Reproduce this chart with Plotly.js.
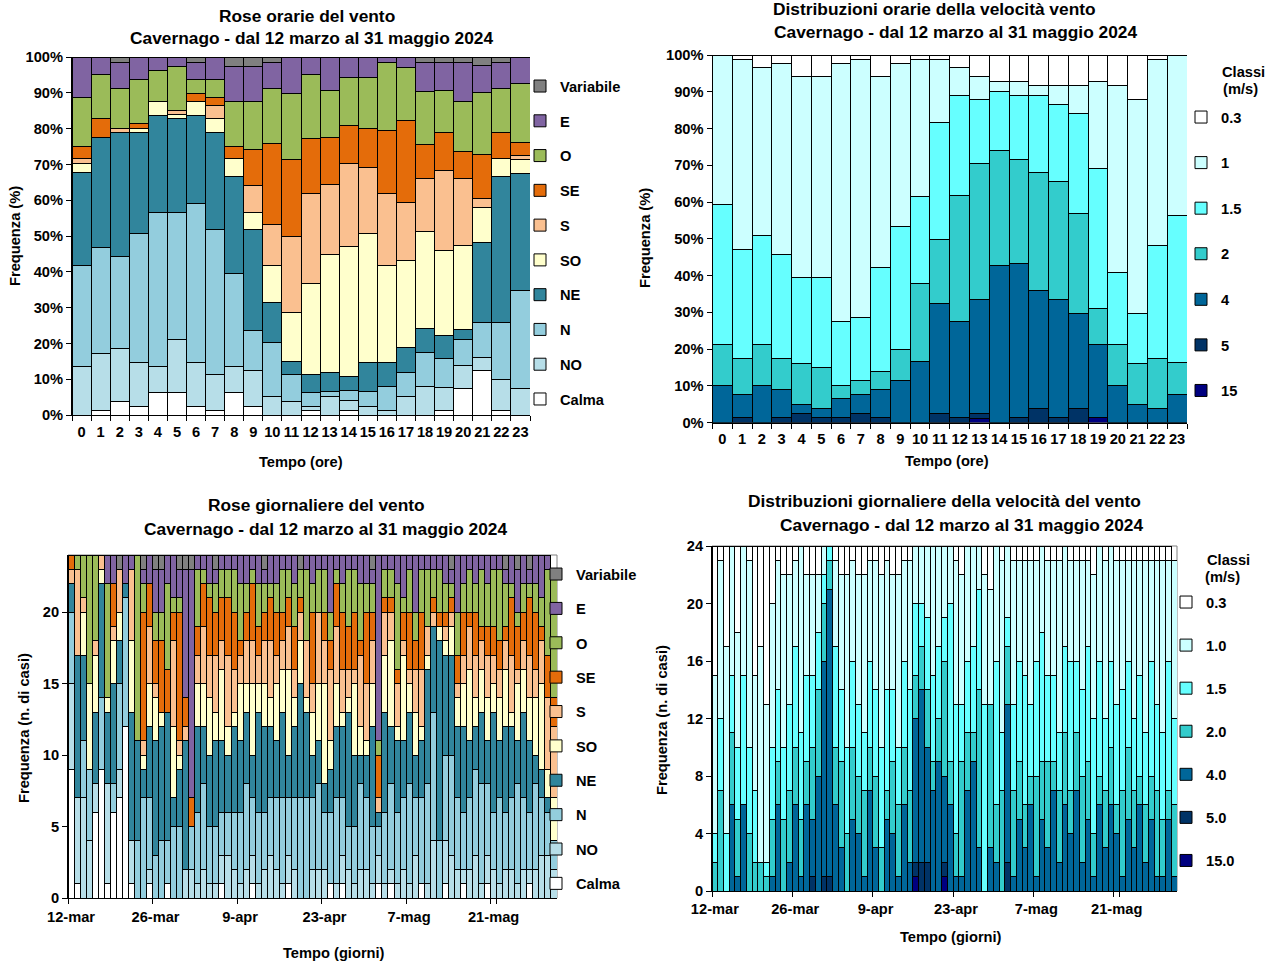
<!DOCTYPE html>
<html><head><meta charset="utf-8">
<script src="https://cdn.plot.ly/plotly-3.0.1.min.js"></script>
<style>body{margin:0;background:#fff}#chart{width:1274px;height:965px}</style>
</head><body><div id="chart"></div>
<script>
// ---------- categories / labels ----------
const hourLabels = ['0','1','2','3','4','5','6','7','8','9','10','11','12','13','14','15','16','17','18','19','20','21','22','23'];
const roseCategories = ['Calma','NO','N','NE','SO','S','SE','O','E','Variabile'];
const roseColors = ['#ffffff','#b7dee8','#93cddd','#31859c','#ffffcc','#fac090','#e46c0a','#9bbb59','#8064a2','#808080'];
const speedClassesHourly = ['15','5','4','2','1.5','1','0.3'];
const speedClassesDaily = ['15.0','5.0','4.0','2.0','1.5','1.0','0.3'];
const speedColors = ['#000080','#003366','#006699','#33cccc','#66ffff','#ccffff','#ffffff'];
const dailyTickLabels = ['12-mar','26-mar','9-apr','23-apr','7-mag','21-mag'];
const monthSpans = [['mar',12,31],['apr',1,30],['mag',1,31]];

// ---------- hourly wind rose (%) ----------
const hCalma = [0,1.2,3.7,2.5,6.2,6.2,2.5,1.2,6.2,2.5,0,0,1.2,0,1.2,0,0,0,0,1.2,7.5,12.4,1.2,0];
const hNO    = [13.5,16.0,14.8,12.3,7.3,14.8,12.3,10.0,7.3,9.9,5.1,3.7,1.3,5.1,2.8,2.5,1.2,5.1,7.9,6.5,6.2,3.7,8.6,7.5];
const hN     = [28.4,29.7,25.8,35.8,43.2,35.7,44.4,40.5,25.9,11.1,15.1,7.5,3.7,1.4,2.8,4.0,6.7,6.7,9.5,8.1,7.5,9.7,16.0,27.4];
const hNE    = [25.9,30.7,34.5,28.3,27.1,26.0,24.6,27.2,27.1,28.2,11.3,3.7,5.0,5.3,3.9,8.1,6.7,7.0,6.8,6.5,2.6,22.4,40.8,32.5];
const hSO    = [2.4,0,0,1.2,3.7,1.2,3.7,3.8,5.1,5.0,10.2,13.7,25.4,32.9,36.4,36.0,27.1,24.3,27.1,23.6,23.6,9.7,5.0,3.9];
const hS     = [1.4,0,1.3,0,0,1.1,0,3.7,0,7.3,11.4,21.3,25.4,19.6,23.1,18.6,20.3,16.3,14.9,22.4,18.8,2.6,0,1.1];
const hSE    = [3.4,5.1,0,1.3,0,0,2.4,2.3,3.4,10.1,22.7,21.4,15.1,13.2,10.7,10.7,17.5,22.9,9.3,10.5,7.4,12.3,7.3,3.7];
const hO     = [13.7,12.3,11.1,12.3,8.7,12.4,3.8,5.0,12.5,13.4,15.3,18.6,17.9,13.2,13.5,14.5,19.0,14.9,14.8,11.9,13.9,17.3,12.3,16.4];
const hE     = [11.3,5.0,7.3,6.3,3.8,2.6,4.8,6.3,9.9,9.9,7.4,10.1,5.0,9.3,5.6,5.6,1.5,2.8,8.2,7.8,11.0,7.5,7.3,7.5];
const hVar   = [0,0,1.5,0,0,0,1.5,0,2.6,2.6,1.5,0,0,0,0,0,0,0,1.5,1.5,1.5,2.4,1.5,0];

// ---------- hourly speed distribution (%) ----------
const hs15  = [0,0,0,0,0,0,0,0,0,0,0,0,0,1.2,0,0,0,0,0,1.4,0,0,0,0];
const hs5   = [0,1.4,0,1.4,2.5,1.4,1.4,2.5,1.4,0,0,2.5,1.4,1.2,0,1.4,3.9,1.4,3.9,0,0,0,0,0];
const hs4   = [10.1,6.1,10.1,7.5,2.5,2.5,5.0,5.0,7.5,11.3,16.6,30.0,26.1,31.0,42.7,41.9,31.9,32.0,25.8,19.7,10.1,5.0,3.9,7.5];
const hs2   = [11.0,10.0,11.0,8.6,11.1,11.1,3.7,3.8,5.0,8.7,21.3,17.2,34.4,37.1,31.2,28.4,32.3,32.3,27.2,9.8,11.0,11.1,13.6,8.8];
const hs15b = [38.3,29.5,29.7,28.3,23.4,24.5,17.4,17.3,28.3,33.3,23.6,32.0,27.2,17.3,16.3,17.4,21.0,20.9,27.2,38.3,19.8,13.6,30.8,40.0];
const hs1   = [40.6,51.9,45.8,51.9,54.6,54.6,70.2,70.3,51.9,44.4,37.4,17.2,7.5,6.3,2.7,3.8,2.6,5.1,7.6,23.5,50.8,58.1,50.6,43.7];
const hs03  = [0,1.1,3.4,2.3,5.9,5.9,2.3,1.1,5.9,2.3,1.1,1.1,3.4,5.9,7.1,7.1,8.3,8.3,8.3,7.3,8.3,12.2,1.1,0];

// ---------- daily wind rose (n. di casi, estimated) ----------
const dCalma = [9,1,0,0,6,9,1,6,7,12, 1,0,0,1,0,0,1,0,0,0, 0,0,0,0,0,1,0,0,0,0, 1,0,0,0,0,0,1,0,0,0, 0,0,0,1,0,1,0,0,0,0, 0,1,0,1,0,0,0,0,1,0, 0,0,1,0,0,1,0,0,0,1, 0,0,0,0,0,0,1,0,0,0,0];
const dNO    = [6,6,7,4,2,0,7,0,2,0, 3,0,0,1,0,0,0,0,0,2, 2,1,2,1,1,2,3,2,1,2, 2,1,2,3,2,1,2,2,0,0, 2,2,2,0,1,2,2,1,2,2, 1,2,1,1,1,2,1,3,0,1, 4,0,3,3,2,1,2,3,1,2, 2,1,2,2,1,2,1,2,3,3,2];
const dN     = [5,0,4,5,0,5,0,2,6,9, 0,4,7,5,3,4,3,5,5,0, 3,5,6,4,4,3,3,4,5,6, 4,5,4,4,5,6,4,5,7,7, 5,6,4,5,6,4,3,4,6,5, 4,2,5,6,5,5,7,4,6,7, 9,4,6,7,5,4,5,6,7,5, 4,6,4,5,7,5,4,6,4,3,2];
const dNE    = [2,10,6,0,5,8,5,7,3,1, 9,7,2,5,8,8,9,2,4,9, 0,6,4,5,6,5,4,6,5,5, 3,7,6,5,4,6,3,5,8,6, 3,3,2,3,5,5,8,5,2,3, 7,1,7,4,5,4,5,3,4,8, 6,14,7,7,5,6,4,3,5,3, 7,4,6,5,3,6,5,2,2,1,0];
const dSO    = [0,0,3,6,4,1,1,3,2,0, 5,0,1,3,3,1,0,5,1,0, 0,3,3,4,2,5,2,1,4,2, 5,2,3,2,4,3,6,2,3,1, 3,4,7,2,3,1,1,5,2,1, 3,0,4,6,1,6,2,3,1,1, 0,1,1,2,2,3,5,2,3,3, 2,3,4,1,4,3,3,4,6,2,3];
const dS     = [1,6,1,0,1,1,0,1,3,0, 5,0,1,4,1,0,0,6,1,1, 0,2,4,3,4,2,5,3,2,3, 3,2,3,4,2,2,3,2,2,4, 2,5,3,5,4,3,2,1,5,4, 3,1,3,2,3,1,1,3,4,2, 1,0,1,1,1,2,3,3,2,3, 2,2,2,4,1,2,3,2,3,5,5];
const dSE    = [1,0,0,0,0,0,0,3,0,0, 0,0,9,3,3,5,3,2,9,2, 2,2,3,4,3,3,4,4,1,2, 4,2,2,3,3,2,2,3,1,0, 5,0,2,2,3,4,3,4,1,5, 2,3,1,1,1,2,4,2,4,0, 1,1,1,1,2,3,1,3,1,2, 2,2,1,4,3,2,4,4,1,3,2];
const dO     = [0,1,3,9,6,0,8,0,0,0, 0,13,2,0,2,2,6,1,1,0, 0,4,1,1,2,2,2,3,4,2, 1,3,2,1,2,3,2,3,2,5, 2,3,3,2,1,2,4,3,4,2, 2,1,2,2,6,1,3,2,3,4, 2,3,2,1,3,2,3,2,4,3, 4,5,3,1,1,2,1,2,2,6,9];
const dE     = [0,0,0,0,0,0,2,2,0,2, 1,0,1,2,3,3,2,3,2,9, 16,1,1,2,1,1,1,1,2,2, 1,2,1,2,2,1,1,2,0,1, 2,1,1,4,1,2,1,1,2,2, 1,13,1,1,2,3,1,4,1,1, 1,1,2,1,4,2,1,2,1,2, 1,1,1,2,3,2,1,2,3,1,0];
const dVar   = [0,0,0,0,0,0,0,0,1,0, 0,0,1,0,1,1,0,0,1,1, 1,0,0,0,1,0,0,0,0,0, 0,0,1,0,0,0,0,0,1,0, 0,0,0,0,0,0,0,0,0,0, 1,0,0,0,0,0,0,0,0,0, 0,0,0,1,0,0,0,0,0,0, 0,0,1,0,1,0,1,0,0,0,0];

// ---------- daily speed distribution (n. di casi, estimated) ----------
const ds15  = [0,0,0,0,0,0,0,0,0,0, 0,0,0,0,0,0,0,0,0,0, 0,0,0,0,0,0,0,0,0,0, 0,0,0,0,0,1,0,0,0,0, 1,0,0,0,0,0,0,0,0,0, 0,0,0,0,0,0,0,0,0,0, 0,0,0,0,0,0,0,0,0,0, 0,0,0,0,0,0,0,0,0,0,0];
const ds5   = [0,0,0,0,0,0,0,0,0,0, 0,0,0,0,0,0,0,1,0,1, 1,0,0,0,0,0,0,0,0,0, 0,0,0,0,0,1,2,2,0,0, 1,0,0,0,0,0,0,0,0,0, 0,2,0,0,0,0,0,0,0,0, 0,0,0,0,0,0,0,0,0,0, 0,0,0,0,0,0,0,0,0,0,0];
const ds4   = [0,0,0,6,1,6,0,0,0,0, 1,6,0,2,6,1,6,4,8,15, 20,6,3,0,5,4,1,7,3,0, 5,4,1,6,2,10,12,8,7,9, 6,6,1,1,7,9,3,0,3,2, 0,11,1,5,3,6,1,5,3,7, 2,6,4,7,2,5,1,6,3,6, 4,1,5,3,6,2,5,1,1,5,1];
const ds2   = [2,7,0,5,4,0,4,2,2,1, 4,3,5,5,4,4,3,5,6,4, 2,4,6,4,5,4,6,3,5,3, 2,5,5,4,5,3,3,4,2,3, 8,3,3,8,4,2,11,0,10,4, 7,4,6,4,3,2,7,4,6,2, 5,5,3,4,6,4,3,2,4,4, 2,6,5,4,2,4,3,6,4,2,5];
const ds15b = [2,5,4,4,5,9,6,5,0,1, 5,5,5,6,7,6,6,5,4,2, 1,7,5,6,6,5,4,6,6,7, 7,5,4,6,7,5,3,5,6,5, 3,11,9,4,5,6,7,13,0,10, 4,2,6,7,9,5,8,9,6,6, 4,6,9,5,6,8,8,8,5,6, 7,7,6,5,7,5,8,6,6,9,6];
const ds1   = [11,11,13,9,8,9,13,8,15,11, 10,9,12,9,6,13,7,7,4,2, 0,6,8,12,7,9,11,7,9,12, 9,8,12,7,9,4,4,5,9,7, 5,4,10,9,8,7,3,9,8,8, 12,5,10,7,8,10,7,6,8,8, 12,7,7,7,9,6,10,8,11,8, 10,9,7,11,8,12,7,10,12,7,11];
const ds03  = [9,1,7,0,6,0,1,9,7,11, 4,1,2,2,1,0,2,2,2,0, 0,1,2,2,1,2,2,1,1,2, 1,2,2,1,1,0,0,0,0,0, 0,0,1,2,0,0,0,2,3,0, 1,0,1,1,1,1,1,0,1,1, 1,0,1,1,1,1,2,0,1,0, 1,1,1,1,1,1,1,1,1,1,0];

// ---------- build ----------
const W = 1274, H = 965;
const FONT = 'Liberation Sans, Arial, sans-serif';
const px = v => v / W, py = v => 1 - v / H;
const dayLabels = [];
monthSpans.forEach(([m, a, b]) => { for (let d = a; d <= b; d++) dayLabels.push(d + '-' + m); });

const hourlyRose = [hCalma, hNO, hN, hNE, hSO, hS, hSE, hO, hE, hVar];
const hourlySpeed = [hs15, hs5, hs4, hs2, hs15b, hs1, hs03];
const dailyRose = [dCalma, dNO, dN, dNE, dSO, dS, dSE, dO, dE, dVar];
const dailySpeed = [ds15, ds5, ds4, ds2, ds15b, ds1, ds03];

const traces = [];
const line = {color: '#000000', width: 1};
function addSet(names, colors, xs, ys, xa, ya, lg, g) {
  names.forEach((c, i) => traces.push({type: 'bar', x: xs, y: ys[i], name: c,
    marker: {color: colors[i], line}, xaxis: xa, yaxis: ya, legend: lg,
    legendgroup: g + i, legendrank: 100 - i}));
}
addSet(roseCategories, roseColors, hourLabels, hourlyRose, 'x', 'y', 'legend', 'a');
addSet(speedClassesHourly, speedColors, hourLabels, hourlySpeed, 'x2', 'y2', 'legend2', 'b');
addSet(roseCategories, roseColors, dayLabels, dailyRose, 'x3', 'y3', 'legend3', 'c');
addSet(speedClassesDaily, speedColors, dayLabels, dailySpeed, 'x4', 'y4', 'legend4', 'd');

const tf = {family: FONT, size: 14.67, color: '#000', weight: 'bold'};
const baseX = {type: 'category', tickson: 'boundaries', ticks: 'outside', ticklen: 5, tickcolor: '#000', tickangle: 0,
  ticklabelstandoff: 3,
  showline: true, linecolor: '#000', linewidth: 1, showgrid: false, zeroline: false, tickfont: tf, fixedrange: true};
const baseY = {ticks: 'outside', ticklen: 5, tickcolor: '#000', showline: true, linecolor: '#000', linewidth: 1,
  showgrid: false, zeroline: false, tickfont: tf, fixedrange: true};

const legendBase = {font: tf, bgcolor: 'rgba(0,0,0,0)', borderwidth: 0, traceorder: 'grouped',
  itemwidth: 30, xanchor: 'left', yanchor: 'top', itemclick: false, itemdoubleclick: false};

const ann = (text, x, y, size, extra) => Object.assign({text, x: px(x), y: py(y), xref: 'paper', yref: 'paper',
  showarrow: false, xanchor: 'center', yanchor: 'middle', font: {family: FONT, size, color: '#000', weight: 'bold'}}, extra || {});

const layout = {
  width: W, height: H, margin: {l: 0, r: 0, t: 0, b: 0}, paper_bgcolor: '#fff', plot_bgcolor: 'rgba(0,0,0,0)',
  barmode: 'stack', bargap: 0, hovermode: false, font: {family: FONT},
  xaxis: Object.assign({}, baseX, {domain: [px(72), px(530)], anchor: 'y', range: [-0.5, 23.5]}),
  yaxis: Object.assign({}, baseY, {domain: [py(415), py(57)], anchor: 'x', range: [0, 100], dtick: 10, ticksuffix: '%'}),
  xaxis2: Object.assign({}, baseX, {domain: [px(712.5), px(1187)], anchor: 'y2', range: [-0.5, 23.5]}),
  yaxis2: Object.assign({}, baseY, {domain: [py(422.5), py(55)], anchor: 'x2', range: [0, 100], dtick: 10, ticksuffix: '%'}),
  xaxis3: Object.assign({}, baseX, {domain: [px(68), px(557)], anchor: 'y3', range: [-0.5, 80.5], ticklabelstandoff: 5,
    tickmode: 'array', tickvals: dailyTickLabels, ticktext: dailyTickLabels}),
  yaxis3: Object.assign({}, baseY, {domain: [py(898), py(555)], anchor: 'x3', range: [0, 24], tickvals: [0,5,10,15,20]}),
  xaxis4: Object.assign({}, baseX, {domain: [px(712), px(1177)], anchor: 'y4', range: [-0.5, 80.5], ticklabelstandoff: 4,
    tickmode: 'array', tickvals: dailyTickLabels, ticktext: dailyTickLabels}),
  yaxis4: Object.assign({}, baseY, {domain: [py(891), py(546)], anchor: 'x4', range: [0, 24], tickvals: [0,4,8,12,16,20,24]}),
  legend: Object.assign({}, legendBase, {x: px(520), y: py(70), tracegroupgap: 12.7}),
  legend2: Object.assign({}, legendBase, {x: px(1181), y: py(101), tracegroupgap: 23.5}),
  legend3: Object.assign({}, legendBase, {x: px(536), y: py(558), tracegroupgap: 12.3}),
  legend4: Object.assign({}, legendBase, {x: px(1166), y: py(586), tracegroupgap: 21}),
  shapes: [
    {type: 'rect', xref: 'x3 domain', yref: 'y3 domain', x0: 0, x1: 1, y0: 0, y1: 1, line: {color: '#808080', width: 1}, layer: 'below'},
    {type: 'rect', xref: 'x4 domain', yref: 'y4 domain', x0: 0, x1: 1, y0: 0, y1: 1, line: {color: '#808080', width: 1}, layer: 'below'}
  ],
  annotations: [
    ann('Rose orarie del vento', 307, 16, 17.33),
    ann('Cavernago - dal 12 marzo al 31 maggio 2024', 311, 38, 17.33),
    ann('Distribuzioni orarie della velocità vento', 934, 9, 17.33),
    ann('Cavernago - dal 12 marzo al 31 maggio 2024', 955, 32, 17.33),
    ann('Rose giornaliere del vento', 316, 505, 17.33),
    ann('Cavernago - dal 12 marzo al 31 maggio 2024', 325, 529, 17.33),
    ann('Distribuzioni giornaliere della velocità del vento', 944, 501, 17.33),
    ann('Cavernago - dal 12 marzo al 31 maggio 2024', 962, 525, 17.33),
    ann('Frequenza (%)', 15, 236, 14.67, {textangle: -90}),
    ann('Tempo (ore)', 301, 462, 14.67),
    ann('Frequenza (%)', 645, 238, 14.67, {textangle: -90}),
    ann('Tempo (ore)', 947, 461, 14.67),
    ann('Frequenza (n. di casi)', 24, 728, 14.67, {textangle: -90}),
    ann('Tempo (giorni)', 334, 953, 14.67),
    ann('Frequenza (n. di casi)', 662, 720, 14.67, {textangle: -90}),
    ann('Tempo (giorni)', 951, 937, 14.67),
    ann('Classi', 1243, 72, 14.67),
    ann('(m/s)', 1240, 89, 14.67),
    ann('Classi', 1228, 560, 14.67),
    ann('(m/s)', 1222, 577, 14.67)
  ]
};

Plotly.newPlot('chart', traces, layout, {staticPlot: true, displayModeBar: false});
</script>
</body></html>
